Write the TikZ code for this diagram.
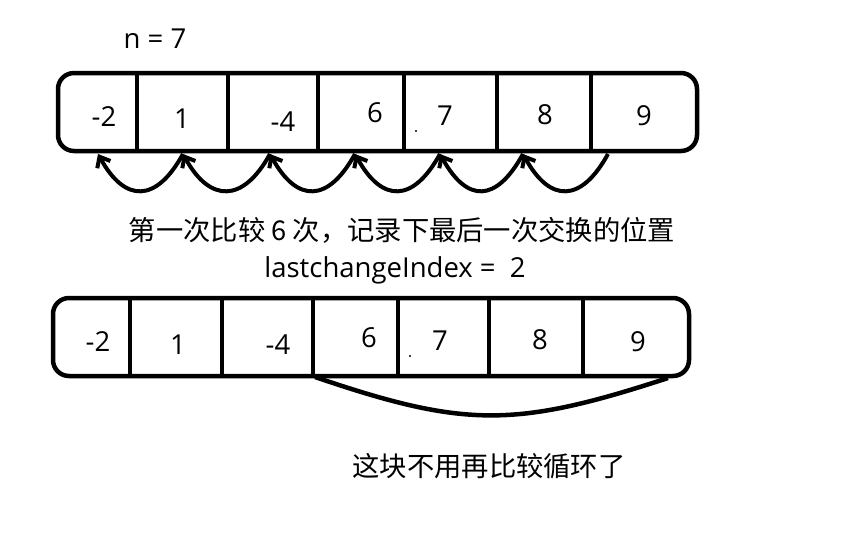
\documentclass[tikz,border=0pt]{standalone}
\usepackage{fontspec}
\setmainfont{Open Sans}
\newfontfamily\cjk{Noto Sans CJK SC}
\usepackage{tikz}
\usetikzlibrary{arrows.meta}
\tikzstyle{num} = [inner sep=0pt, font=\fontsize{27.5}{32}\selectfont]
\tikzstyle{cjktext} = [inner sep=0pt, font=\cjk\fontsize{27.3}{32}\selectfont]
\tikzstyle{frame} = [line width=4.5pt, rounded corners=16pt]
\tikzstyle{bar} = [line width=4.5pt]
\tikzstyle{arrow} = [line width=4pt, -{Straight Barb[length=9pt, width=15pt]}]

\begin{document}
\begin{tikzpicture}[x=1pt, y=-1pt]
\useasboundingbox (0,0) rectangle (842,546);

\node (n) [num] at (155,39) {n = 7};

\draw [frame] (58,73) rectangle (697,151);

\draw [bar] (137,73) -- (137,151);
\draw [bar] (228,73) -- (228,151);
\draw [bar] (318,73) -- (318,151);
\draw [bar] (404,73) -- (404,151);
\draw [bar] (497,73) -- (497,151);
\draw [bar] (591,73) -- (591,151);

\node (a1) [num] at (104,117) {-2};
\node (a2) [num] at (182,119) {1};
\node (a3) [num] at (283,122) {-4};
\node (a4) [num] at (375,113) {6};
\node (a5) [num] at (445,116) {7};
\node (a6) [num] at (545,115) {8};
\node (a7) [num] at (644,116) {9};

\fill (416,131) circle (1.2pt);

\coordinate (p0) at (98,154);
\coordinate (p1) at (183,154);
\coordinate (p2) at (270,154);
\coordinate (p3) at (355,154);
\coordinate (p4) at (440,154);
\coordinate (p5) at (523,154);
\coordinate (p6) at (608,154);

\draw [arrow] (p1) .. controls +(-27,49) and +(27,49) .. (p0);
\draw [arrow] (p2) .. controls +(-27,49) and +(27,49) .. (p1);
\draw [arrow] (p3) .. controls +(-27,49) and +(27,49) .. (p2);
\draw [arrow] (p4) .. controls +(-27,49) and +(27,49) .. (p3);
\draw [arrow] (p5) .. controls +(-27,49) and +(27,49) .. (p4);
\draw [arrow] (p6) .. controls +(-27,49) and +(27,49) .. (p5);

\node (t1) [cjktext] at (402,230) {第一次比较 6 次，记录下最后一次交换的位置};

\node (t2) [num, anchor=base] at (395,277) {lastchangeIndex = \ 2};

\draw [frame] (53,298) rectangle (689,376);

\draw [bar] (130,298) -- (130,376);
\draw [bar] (222,298) -- (222,376);
\draw [bar] (313,298) -- (313,376);
\draw [bar] (398,298) -- (398,376);
\draw [bar] (489,298) -- (489,376);
\draw [bar] (583,298) -- (583,376);

\node (b1) [num] at (98,342) {-2};
\node (b2) [num] at (178,345) {1};
\node (b3) [num] at (278,345) {-4};
\node (b4) [num] at (369,338) {6};
\node (b5) [num] at (440,341) {7};
\node (b6) [num] at (540,340) {8};
\node (b7) [num] at (638,342) {9};

\fill (410,356) circle (1.2pt);

\coordinate (q0) at (315,377);
\coordinate (q1) at (668,378);

\draw [bar] (q0) .. controls (465,428) and (515,428) .. (q1);

\node (t3) [cjktext] at (489,466) {这块不用再比较循环了};

\end{tikzpicture}
\end{document}
